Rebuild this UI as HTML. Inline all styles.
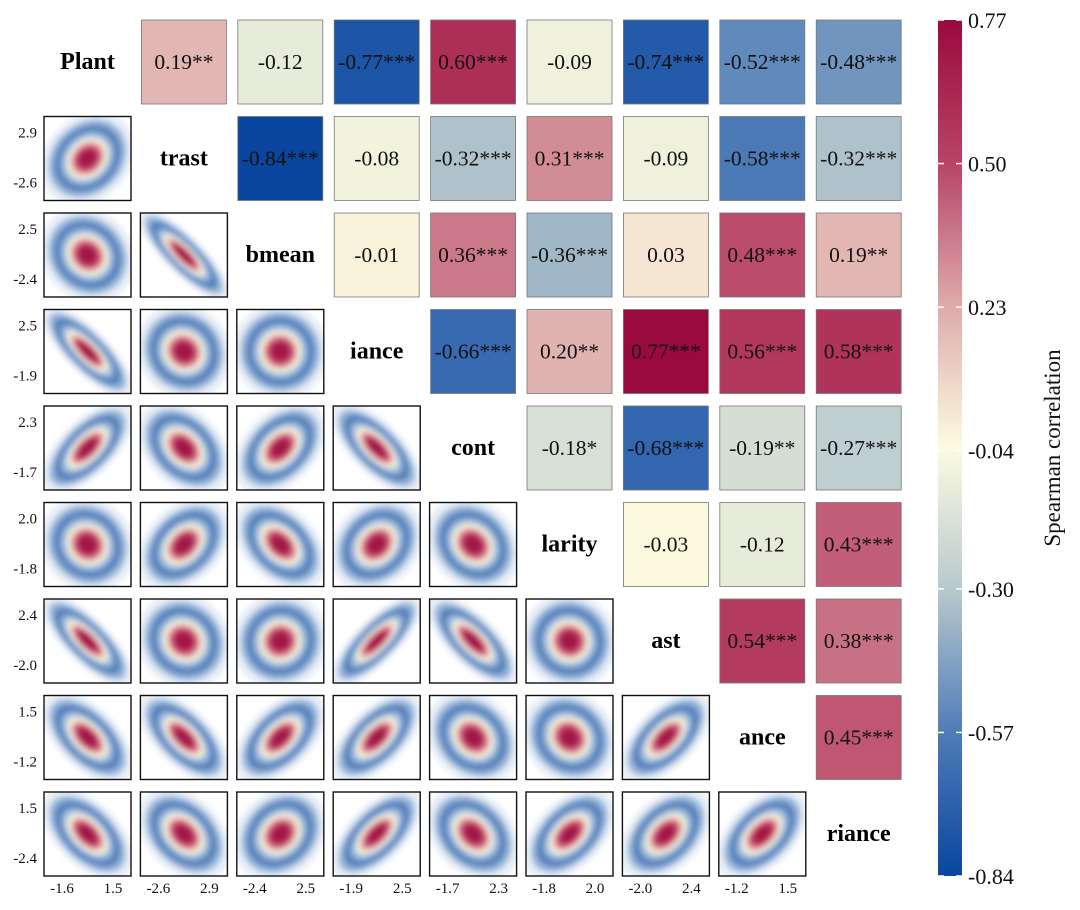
<!DOCTYPE html>
<html><head><meta charset="utf-8"><style>
body{margin:0;background:#fff;}
svg{display:block;font-family:"Liberation Serif",serif;}
</style></head><body>
<svg id="chart" width="1080" height="910" viewBox="0 0 1080 910">
<defs>
<filter id="blur" x="-30%" y="-30%" width="160%" height="160%"><feGaussianBlur stdDeviation="2.6"/></filter>
<linearGradient id="cbar" x1="0" y1="0" x2="0" y2="1">
<stop offset="0" stop-color="#9b0a3e"/>
<stop offset="0.167" stop-color="#b84466"/>
<stop offset="0.333" stop-color="#ddaaaa"/>
<stop offset="0.5" stop-color="#fcfbe0"/>
<stop offset="0.667" stop-color="#b7c8cd"/>
<stop offset="0.833" stop-color="#4e7cb8"/>
<stop offset="1" stop-color="#0a46a0"/>
</linearGradient>
</defs>
</svg>
<script>
const names=["Plant","trast","bmean","iance","cont","larity","ast","ance","riance"];
const corr=[
[0.19,-0.12,-0.77,0.60,-0.09,-0.74,-0.52,-0.48],
[-0.84,-0.08,-0.32,0.31,-0.09,-0.58,-0.32],
[-0.01,0.36,-0.36,0.03,0.48,0.19],
[-0.66,0.20,0.77,0.56,0.58],
[-0.18,-0.68,-0.19,-0.27],
[-0.03,-0.12,0.43],
[0.54,0.38],
[0.45]];
const stars=[
["**","","***","***","","***","***","***"],
["***","","***","***","","***","***"],
["","***","***","","***","**"],
["***","**","***","***","***"],
["*","***","**","***"],
["","","***"],
["***","***"],
["***"]];
const yTicks=[["2.9","-2.6"],["2.5","-2.4"],["2.5","-1.9"],["2.3","-1.7"],["2.0","-1.8"],["2.4","-2.0"],["1.5","-1.2"],["1.5","-2.4"]];
const xTicks=[["-1.6","1.5"],["-2.6","2.9"],["-2.4","2.5"],["-1.9","2.5"],["-1.7","2.3"],["-1.8","2.0"],["-2.0","2.4"],["-1.2","1.5"]];
const cbTicks=[0.77,0.50,0.23,-0.04,-0.30,-0.57,-0.84];
const cbColors=["#9b0a3e","#b84466","#ddaaaa","#fcfbe0","#b7c8cd","#4e7cb8","#0a46a0"];

const svg=document.getElementById('chart');
const NS="http://www.w3.org/2000/svg";
function mk(tag,attrs,parent){const e=document.createElementNS(NS,tag);for(const k in attrs)e.setAttribute(k,attrs[k]);(parent||svg).appendChild(e);return e;}
const X0=44,Y0=20,PX=96.4,PY=96.5,CW=87,CH=84;
const cx=j=>X0+j*PX, cy=i=>Y0+i*PY;
const vMin=-0.84,vMax=0.77,barTop=20,barBot=876;
const vy=v=>barTop+(vMax-v)/(vMax-vMin)*(barBot-barTop);
function hex(h){return [1,3,5].map(k=>parseInt(h.substr(k,2),16));}
function color(v){
  for(let k=0;k<cbTicks.length-1;k++){
    const a=cbTicks[k],b=cbTicks[k+1];
    if(v<=a&&v>=b){const t=(a-v)/(a-b);const c1=hex(cbColors[k]),c2=hex(cbColors[k+1]);
      return 'rgb('+c1.map((c,i)=>Math.round(c+(c2[i]-c)*t)).join(',')+')';}
  }
  return v>vMax?cbColors[0]:cbColors[6];
}
names.forEach((n,i)=>{
  const t=mk('text',{x:cx(i)+CW/2,y:cy(i)+CH/2+7,'text-anchor':'middle','font-size':'24','font-weight':'bold',fill:'#000'});
  t.textContent=n;
  
  
});
corr.forEach((row,i)=>row.forEach((v,k)=>{
  const j=i+1+k;
  const g=mk('g',{});
  
  
  mk('rect',{x:cx(j)+1,y:cy(i),width:CW-2,height:CH,fill:color(v),stroke:'#777','stroke-width':0.8},g);
  const t=mk('text',{x:cx(j)+CW/2,y:cy(i)+CH/2+7,'text-anchor':'middle','font-size':'21.5',fill:'#111'},g);
  t.textContent=v.toFixed(2)+stars[i][k];
}));
const layers=[[1.3,'#dce6f2',0.7],[1.08,'#8eaed6',0.9],[0.92,'#4a78b6',0.95],[0.78,'#7fa2cf',1],[0.66,'#bfd2e4',1],[0.56,'#f6f0d4',1],[0.46,'#e39aa2',1],[0.36,'#c03c62',1],[0.24,'#a3164a',1]];
let cid=0;
for(let i=1;i<9;i++)for(let j=0;j<i;j++){
  const r=corr[j][i-j-1];
  const g=mk('g',{});
  
  
  const clip=mk('clipPath',{id:'c'+cid},g);
  mk('rect',{x:cx(j),y:cy(i),width:CW,height:CH},clip);
  const inner=mk('g',{'clip-path':'url(#c'+cid+')'},g);
  cid++;
  const a=Math.abs(r);
  const A=37+a*14, B=37*(1-a*0.72);
  const ang=r>0?-45:45;
  const mx=cx(j)+CW/2, my=cy(i)+CH/2;
  const eg=mk('g',{transform:`translate(${mx},${my}) rotate(${ang})`,filter:'url(#blur)'},inner);
  layers.forEach(L=>mk('ellipse',{cx:0,cy:0,rx:A*L[0],ry:B*L[0],fill:L[1],'fill-opacity':L[2]},eg));
  mk('rect',{x:cx(j),y:cy(i),width:CW,height:CH,fill:'none',stroke:'#111','stroke-width':1.4},g);
}
yTicks.forEach((p,k)=>{
  const i=k+1;
  [[p[0],cy(i)+21],[p[1],cy(i)+CH-13]].forEach(q=>{
    const t=mk('text',{x:37,y:q[1],'text-anchor':'end','font-size':'15',fill:'#111'});
    t.textContent=q[0];
    
    
  });
});
xTicks.forEach((p,j)=>{
  [[p[0],cx(j)+18],[p[1],cx(j)+CW-18]].forEach(q=>{
    const t=mk('text',{x:q[1],y:893,'text-anchor':'middle','font-size':'15',fill:'#111'});
    t.textContent=q[0];
    
    
  });
});
const cb=mk('g',{});


mk('rect',{x:938,y:barTop,width:24,height:barBot-barTop,fill:'url(#cbar)'},cb);
cbTicks.forEach(v=>{
  const y=vy(v);
  mk('line',{x1:938,x2:944,y1:y,y2:y,stroke:'#fff','stroke-width':1.5},cb);
  mk('line',{x1:956,x2:962,y1:y,y2:y,stroke:'#fff','stroke-width':1.5},cb);
  const t=mk('text',{x:968,y:y+8,'font-size':'22',fill:'#111'},cb);
  t.textContent=v.toFixed(2);
});
const tt=mk('text',{x:1060,y:448,'text-anchor':'middle','font-size':'23',fill:'#111',transform:'rotate(-90 1060 448)'});
tt.textContent='Spearman correlation';


</script>
</body></html>
